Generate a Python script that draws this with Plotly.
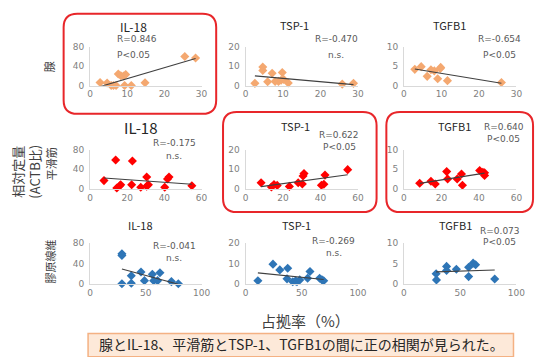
import numpy as np
import plotly.graph_objects as go
from plotly.subplots import make_subplots

W, H = 544, 357

# ---------------- data ----------------
genes = ["IL-18", "TSP-1", "TGFB1"]
tissues = ["腺", "平滑筋", "膠原線維"]

# row 1: 腺 (gland) occupancy vs expression
gland_il18_x = [2.7, 4.6, 5.7, 6.3, 7.0, 7.6, 8.3, 9.0, 9.6, 9.3, 11.1, 14.8, 25.5, 28.4]
gland_il18_y = [6.5, 5.5, 0.5, 0.5, 0.5, 24, 20.5, 20, 23, 0.5, 0.5, 6, 60, 57]
gland_tsp1_x = [2.5, 4.6, 4.6, 5.9, 7.1, 7.9, 8.8, 9.5, 9.8, 10.2, 11.4, 25.8, 28.8]
gland_tsp1_y = [1.2, 9.6, 7.8, 2.0, 6.4, 2.2, 2.2, 2.8, 6.8, 3.2, 1.4, 0.8, 1.2]
gland_tgfb1_x = [2.9, 4.6, 6.2, 7.2, 8.1, 9.0, 9.7, 9.8, 11.6, 26.0]
gland_tgfb1_y = [4.2, 4.9, 2.4, 4.1, 3.8, 1.8, 4.4, 4.7, 1.3, 0.8]

# row 2: 平滑筋 (smooth muscle)
sm_il18_x = [7.5, 13.8, 14.4, 16.0, 16.5, 22.8, 22.4, 27.3, 30.5, 30.5, 31.4, 40.2, 41.7, 42.5, 54.8]
sm_il18_y = [16.7, 59, 1.4, 6, 8, 57, 8, 3, 24, 5, 8, 3, 20, 24, 6]
sm_tsp1_x = [8.3, 13.8, 15.2, 16.9, 23.4, 28.1, 30.3, 30.7, 31.2, 40.5, 41.8, 42.4, 54.5]
sm_tsp1_y = [3.1, 0.9, 2.2, 1.7, 1.2, 3.1, 2.4, 6.5, 7.8, 1.8, 2.3, 7.0, 9.8]
sm_tgfb1_x = [8.4, 14.4, 16.7, 22.8, 23.3, 28.4, 30.7, 31.2, 40.4, 42.1, 43.0, 43.0]
sm_tgfb1_y = [1.4, 1.9, 1.2, 4.4, 2.5, 2.5, 3.8, 0.9, 4.7, 4.2, 3.4, 4.1]

# row 3: 膠原線維 (collagen fibre)
cf_il18_x = [28.6, 28.6, 28.6, 37.0, 37.0, 45.7, 48.8, 55.9, 57.1, 60.6, 62.7, 73.0, 79.2]
cf_il18_y = [59, 56, 0.5, 16, 1.5, 23.5, 6.5, 19, 6.5, 6.5, 22, 4.6, 0.5]
cf_tsp1_x = [11.0, 24.4, 30.5, 37.5, 36.9, 42.0, 44.5, 45.7, 48.2, 55.2, 57.3, 65.9, 68.0, 69.5]
cf_tsp1_y = [1.6, 9.7, 6.9, 7.7, 2.5, 1.1, 1.5, 1.1, 2.0, 2.8, 6.1, 2.8, 2.0, 1.6]
cf_tgfb1_x = [28.6, 28.9, 37.9, 37.9, 46.6, 57.5, 57.5, 61.5, 63.7, 80.7]
cf_tgfb1_y = [2.5, 1.0, 4.3, 3.3, 3.6, 4.1, 1.8, 5.1, 4.7, 1.2]

r_labels = [["R=0.846", "R=-0.470", "R=-0.654"],
            ["R=-0.175", "R=0.622", "R=0.640"],
            ["R=-0.041", "R=-0.269", "R=0.073"]]
p_labels = [["P<0.05", "n.s.", "P<0.05"],
            ["n.s.", "P<0.05", "P<0.05"],
            ["n.s.", "n.s.", "P<0.05"]]

x_ranges = [30, 60, 100]
x_dticks = [10, 20, 50]
y_ranges = [80, 20, 10]
y_dticks = [40, 10, 5]

data = [[(gland_il18_x, gland_il18_y), (gland_tsp1_x, gland_tsp1_y), (gland_tgfb1_x, gland_tgfb1_y)],
        [(sm_il18_x, sm_il18_y), (sm_tsp1_x, sm_tsp1_y), (sm_tgfb1_x, sm_tgfb1_y)],
        [(cf_il18_x, cf_il18_y), (cf_tsp1_x, cf_tsp1_y), (cf_tgfb1_x, cf_tgfb1_y)]]

row_colors = ["#f4a870", "#ff0000", "#2e75b6"]

xaxis_title = "占拠率（%）"
yaxis_title = "相対定量<br>(ACTB比)"
conclusion = "腺とIL-18、平滑筋とTSP-1、TGFB1の間に正の相関が見られた。"

# ---------------- layout helpers ----------------
cols_px = [(89, 203), (248, 363), (410, 525)]
rows_px = [(43, 83), (149, 189), (245, 287)]

def px_x(x):
    return x / W

def px_y(y):
    return 1 - y / H

JP = "Noto Sans CJK JP"
NUM = "DejaVu Sans"
TICKFONT = dict(family=NUM, size=9, color="#7f7f7f")

fig = make_subplots(rows=3, cols=3)

annotations = []
shapes = []

for r in range(3):
    for c in range(3):
        xs, ys = data[r][c]
        fig.add_trace(go.Scatter(x=xs, y=ys, mode="markers",
                                 marker=dict(symbol="diamond", size=7, color=row_colors[r],
                                             line=dict(width=0)),
                                 hoverinfo="skip", cliponaxis=False), row=r + 1, col=c + 1)
        # linear trendline (least squares) over the data range
        a, b = np.polyfit(xs, ys, 1)
        tx = np.array([min(xs), max(xs)])
        fig.add_trace(go.Scatter(x=tx, y=a * tx + b, mode="lines",
                                 line=dict(color="#404040", width=1.1), hoverinfo="skip"),
                      row=r + 1, col=c + 1)
        x0, x1 = cols_px[c]
        y0, y1 = rows_px[r]
        fig.update_xaxes(domain=[px_x(x0), px_x(x1)], range=[0, x_ranges[r]],
                         tickmode="linear", dtick=x_dticks[r], tick0=0,
                         showgrid=False, zeroline=False, showticklabels=True,
                         showline=True, linecolor="#d9d9d9", linewidth=1, ticks="",
                         ticklabeloverflow="allow", tickfont=TICKFONT,
                         row=r + 1, col=c + 1)
        fig.update_yaxes(domain=[px_y(y1), px_y(y0)], range=[0, y_ranges[c]],
                         tickmode="linear", dtick=y_dticks[c], tick0=0,
                         showgrid=False, zeroline=False, showticklabels=True,
                         showline=True, linecolor="#d9d9d9", linewidth=1,
                         ticks="outside", ticklen=3, tickcolor="rgba(0,0,0,0)",
                         ticklabeloverflow="allow", ticklabelposition="outside",
                         tickfont=TICKFONT,
                         row=r + 1, col=c + 1)

# panel titles
title_pos = [[(133, 22, 12), (298, 21, 11), (457, 21, 11)],
             [(141, 126, 15), (299, 125, 11), (462, 125, 11)],
             [(141, 226, 11), (300, 226, 11), (463, 226, 11)]]
for r in range(3):
    for c in range(3):
        x, y, s = title_pos[r][c]
        annotations.append(dict(x=px_x(x), y=px_y(y), xref="paper", yref="paper",
                                text=genes[c], showarrow=False, xanchor="center", yanchor="middle",
                                font=dict(family=JP, size=s, color="#262626")))

# R / P labels : (x, y_R, y_P, anchor)
rp_pos = [[(115, 35, 51, "left"), (341, 35, 51, "center"), (508, 35, 51, "center")],
          [(175, 142, 155, "center"), (344, 134, 146, "center"), (512, 126, 138, "center")],
          [(175, 248, 260, "center"), (338, 243, 255, "center"), (508, 232, 244, "center")]]
for r in range(3):
    for c in range(3):
        x, yr, yp, anc = rp_pos[r][c]
        for txt, yy in ((r_labels[r][c], yr), (p_labels[r][c], yp)):
            annotations.append(dict(x=px_x(x), y=px_y(yy), xref="paper", yref="paper",
                                    text=txt, showarrow=False, xanchor=anc, yanchor="middle",
                                    font=dict(family=NUM, size=9, color="#595959")))

# row (tissue) labels, rotated
tissue_pos = [(47, 63), (50, 163), (48, 264)]
for (x, y), t in zip(tissue_pos, tissues):
    annotations.append(dict(x=px_x(x), y=px_y(y), xref="paper", yref="paper", text=t,
                            textangle=-90, showarrow=False, xanchor="center", yanchor="middle",
                            font=dict(family=JP, size=11, color="#404040")))
annotations.append(dict(x=px_x(24), y=px_y(171), xref="paper", yref="paper", text=yaxis_title,
                        textangle=-90, showarrow=False, xanchor="center", yanchor="middle",
                        font=dict(family=JP, size=13, color="#404040")))

# x title
annotations.append(dict(x=px_x(309), y=px_y(325), xref="paper", yref="paper", text=xaxis_title,
                        showarrow=False, xanchor="center", yanchor="middle",
                        font=dict(family=JP, size=15, color="#404040")))

# conclusion box
shapes.append(dict(type="rect", xref="paper", yref="paper",
                   x0=px_x(87), x1=px_x(522), y0=px_y(362), y1=px_y(338),
                   fillcolor="#fde9d9", line=dict(color="#f4b183", width=1.5), layer="below"))
annotations.append(dict(x=px_x(305), y=px_y(349), xref="paper", yref="paper", text=conclusion,
                        showarrow=False, xanchor="center", yanchor="middle",
                        font=dict(family=JP, size=14, color="#262626")))

# red rounded highlight boxes
def rounded(x0, y0, x1, y1, rad):
    X = lambda v: px_x(v)
    Y = lambda v: px_y(v)
    return (f"M {X(x0+rad)} {Y(y0)} L {X(x1-rad)} {Y(y0)} Q {X(x1)} {Y(y0)} {X(x1)} {Y(y0+rad)} "
            f"L {X(x1)} {Y(y1-rad)} Q {X(x1)} {Y(y1)} {X(x1-rad)} {Y(y1)} "
            f"L {X(x0+rad)} {Y(y1)} Q {X(x0)} {Y(y1)} {X(x0)} {Y(y1-rad)} "
            f"L {X(x0)} {Y(y0+rad)} Q {X(x0)} {Y(y0)} {X(x0+rad)} {Y(y0)} Z")

for (x0, y0, x1, y1) in [(62, 9, 218, 112), (225, 110, 382, 213), (392, 110, 542, 213)]:
    shapes.append(dict(type="path", xref="paper", yref="paper", path=rounded(x0, y0, x1, y1, 14),
                       line=dict(color="#e8262a", width=2)))

fig.update_layout(width=W, height=H, autosize=False, margin=dict(l=0, r=0, t=0, b=0, pad=0),
                  paper_bgcolor="white", plot_bgcolor="white", showlegend=False,
                  annotations=annotations, shapes=shapes)
fig.write_html("out.html", config={"displayModeBar": False},
               post_script="document.body.style.margin='0';document.body.style.padding='0';"
                           "document.body.style.overflow='hidden';")
